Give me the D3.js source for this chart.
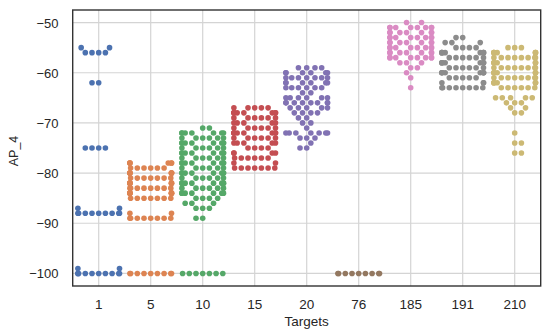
<!DOCTYPE html>
<html><head><meta charset="utf-8">
<script src="https://cdn.jsdelivr.net/npm/d3@7"></script>
<style>body{margin:0;background:#fff}text{font-family:"Liberation Sans",Arial,sans-serif;fill:#262626}</style>
</head><body>
<svg id="c" width="550" height="336"></svg>
<script>
const categories = ["1","5","10","15","20","76","185","191","210"];
const colors = ["#4C72B0","#DD8452","#55A868","#C44E52","#8172B3","#937860","#DA8BC3","#8C8C8C","#CCB974"];
const yTicks = [-100,-90,-80,-70,-60,-50];
// [AP_4 value, number of samples] per target
const t1   = [[-55,2],[-56,4],[-62,2],[-75,4],[-87,2],[-88,9],[-99,2],[-100,10]];
const t5   = [[-78,6],[-79,6],[-80,8],[-81,7],[-82,7],[-83,8],[-84,8],[-85,7],[-88,2],[-89,8],[-100,9]];
const t10  = [[-71,2],[-72,7],[-73,6],[-74,8],[-75,6],[-76,8],[-77,6],[-78,8],[-79,6],[-80,8],[-81,6],[-82,8],[-83,6],[-84,7],[-85,4],[-86,3],[-87,3],[-89,2],[-100,7]];
const t15  = [[-67,5],[-68,8],[-69,6],[-70,5],[-71,6],[-72,8],[-73,6],[-74,5],[-75,4],[-76,4],[-77,6],[-78,2],[-79,7]];
const t20  = [[-59,4],[-60,6],[-61,7],[-62,6],[-63,6],[-64,2],[-65,6],[-66,8],[-67,5],[-68,4],[-69,2],[-70,2],[-71,1],[-72,7],[-73,3],[-74,1],[-75,2]];
const t76  = [[-100,9]];
const t185 = [[-50,2],[-51,8],[-52,7],[-53,8],[-54,7],[-55,8],[-56,7],[-57,8],[-58,3],[-59,2],[-60,1],[-61,1],[-63,1]];
const t191 = [[-53,2],[-54,3],[-55,4],[-56,8],[-57,6],[-58,8],[-59,6],[-60,8],[-61,5],[-62,3],[-63,8]];
const t210 = [[-55,3],[-56,7],[-57,8],[-58,7],[-59,8],[-60,7],[-61,8],[-62,7],[-63,6],[-65,5],[-66,3],[-67,2],[-68,2],[-72,1],[-74,2],[-76,2]];
const series = [t1,t5,t10,t15,t20,t76,t185,t191,t210];

const W=550,H=336, L=72.7, R=540.7, T=10, B=286;
const svg=d3.select("#c");
const x=d3.scaleBand().domain(categories).range([L,R]).padding(0);
const y=d3.scaleLinear().domain([-102.5,-47.5]).range([B,T]);

// grid
svg.append("g").selectAll("line").data(yTicks).join("line")
  .attr("x1",L).attr("x2",R).attr("y1",d=>y(d)).attr("y2",d=>y(d))
  .attr("stroke","#d4d4d4").attr("stroke-width",1.2);
svg.append("g").selectAll("line").data(categories).join("line")
  .attr("x1",d=>x(d)+x.bandwidth()/2).attr("x2",d=>x(d)+x.bandwidth()/2).attr("y1",T).attr("y2",B)
  .attr("stroke","#d4d4d4").attr("stroke-width",1.2);

// swarm (seaborn-like beeswarm with gutters)
const K=1.0, D=6.38, HW=x.bandwidth()*0.4;
function swarm(pairs, cx){
  const pts=[];
  pairs.forEach(([v,n])=>{for(let i=0;i<n;i++)pts.push({v, y:y(v), yc:-y(v)*K});});
  pts.sort((a,b)=>a.yc-b.yc);
  const placed=[];
  for(const p of pts){
    if(!placed.length){p.x=cx;placed.push(p);continue;}
    const nb=placed.filter(q=>Math.abs(p.yc-q.yc)<D);
    const c=[cx]; let lf=true;
    for(const q of nb){const dy=p.yc-q.yc;const dx=Math.sqrt(Math.max(D*D-dy*dy,0))*1.05;
      if(lf)c.push(q.x-dx,q.x+dx);else c.push(q.x+dx,q.x-dx);lf=!lf;}
    const ord=c.map((v,i)=>({v,i,o:Math.abs(v-cx)})).sort((a,b)=>a.o-b.o||a.i-b.i);
    p.x=ord[ord.length-1].v;
    for(const o of ord){ if(nb.every(q=>(q.x-o.v)**2+(q.yc-p.yc)**2>=D*D-1e-6)){p.x=o.v;break;} }
    placed.push(p);
  }
  placed.forEach(p=>p.x=Math.max(cx-HW,Math.min(cx+HW,p.x)));
  return placed;
}
categories.forEach((cat,i)=>{
  const cx=x(cat)+x.bandwidth()/2;
  const pts=swarm(series[i],cx);
  svg.append("g").selectAll("circle").data(pts).join("circle")
    .attr("cx",d=>d.x).attr("cy",d=>d.y).attr("r",2.8).attr("fill",colors[i]);
});

// frame
svg.append("rect").attr("x",L).attr("y",T).attr("width",R-L).attr("height",B-T)
  .attr("fill","none").attr("stroke","#333").attr("stroke-width",1.4);

// tick labels
svg.append("g").selectAll("text").data(yTicks).join("text")
  .attr("x",58.5).attr("y",d=>y(d)+5).attr("text-anchor","end").attr("font-size",13)
  .text(d=>d3.format("")(d).replace("-","\u2212"));
svg.append("g").selectAll("text").data(categories).join("text")
  .attr("x",d=>x(d)+x.bandwidth()/2).attr("y",309).attr("text-anchor","middle").attr("font-size",13.5)
  .text(d=>d);
svg.append("text").attr("x",306.7).attr("y",326).attr("text-anchor","middle").attr("font-size",13.5).text("Targets");
svg.append("text").attr("transform","translate(18,151) rotate(-90)").attr("text-anchor","middle").attr("font-size",12.5).text("AP_4");
</script>
</body></html>
